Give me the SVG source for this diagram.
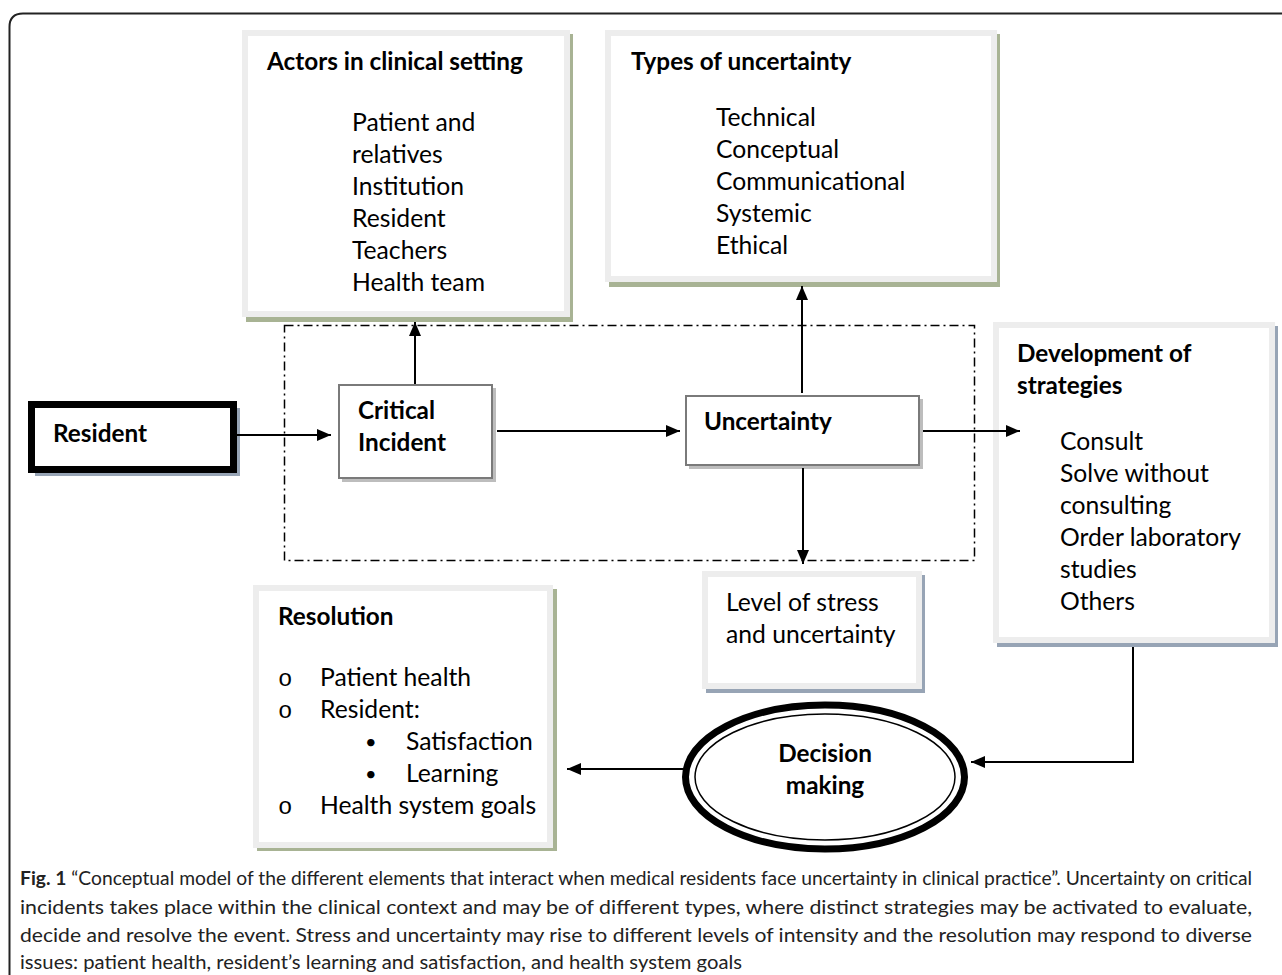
<svg xmlns="http://www.w3.org/2000/svg" width="1282" height="975" viewBox="0 0 1282 975">
<defs>
<marker id="ah" markerWidth="14" markerHeight="12" refX="14" refY="6" orient="auto" markerUnits="userSpaceOnUse">
<path d="M0,0 L14,6 L0,12 Z" fill="#000"/>
</marker>
<style>
.t{font-family:Lato,"Liberation Sans",sans-serif;font-size:24.7px;fill:#000}
.b{font-family:Lato,"Liberation Sans",sans-serif;font-size:24.3px;font-weight:bold;fill:#000}
.box{fill:#fff;stroke:#ededed;stroke-width:6}
.shg{fill:#a8b394}
.shb{fill:#97a4b5}
.shr{fill:#bdbdbd}
.gbox{fill:#fff;stroke:#7a7a7a;stroke-width:2}
.cap{font-family:Lato,"Liberation Sans",sans-serif;font-size:18.5px;fill:#222}
.ln{stroke:#000;stroke-width:2;fill:none}
.mono{font-family:"Liberation Mono",monospace;font-size:24px;fill:#000}
.dot{font-family:Lato,"Liberation Sans",sans-serif;font-size:20px;fill:#000}
</style>
</defs>
<rect width="1282" height="975" fill="#fff"/>
<path d="M9.5,975 V27 Q9.5,13.5 23,13.5 H1282" fill="none" stroke="#222" stroke-width="2"/>

<g id="context">
<rect x="284.5" y="325.5" width="690" height="235" fill="none" stroke="#000" stroke-width="1.5" stroke-dasharray="9,4,2,4"/>
</g>

<g id="actors">
<rect class="shg" x="246" y="34" width="327" height="288"/>
<rect class="box" x="245" y="33" width="322" height="281"/>
<text class="b" x="267" y="70">Actors in clinical setting</text>
<text class="t" x="352" y="131">Patient and</text>
<text class="t" x="352" y="163">relatives</text>
<text class="t" x="352" y="195">Institution</text>
<text class="t" x="352" y="227">Resident</text>
<text class="t" x="352" y="259">Teachers</text>
<text class="t" x="352" y="291">Health team</text>
</g>

<g id="types">
<rect class="shg" x="609" y="34" width="391" height="253"/>
<rect class="box" x="608" y="33" width="386" height="246"/>
<text class="b" x="631" y="70">Types of uncertainty</text>
<text class="t" x="716" y="126">Technical</text>
<text class="t" x="716" y="158">Conceptual</text>
<text class="t" x="716" y="190">Communicational</text>
<text class="t" x="716" y="222">Systemic</text>
<text class="t" x="716" y="254">Ethical</text>
</g>

<g id="resident">
<rect class="shb" x="35" y="408" width="205" height="68"/>
<rect x="31.5" y="404.5" width="202" height="65" fill="#fff" stroke="#000" stroke-width="7"/>
<text class="b" x="53" y="442">Resident</text>
</g>

<g id="critical">
<rect class="shr" x="342" y="388" width="154" height="94"/>
<rect class="gbox" x="339" y="385" width="153" height="93"/>
<text class="b" x="358" y="419">Critical</text>
<text class="b" x="358" y="451">Incident</text>
</g>

<g id="uncertainty">
<rect class="shr" x="689" y="399" width="234" height="70"/>
<rect class="gbox" x="686" y="396" width="233" height="69"/>
<text class="b" x="704" y="430">Uncertainty</text>
</g>

<g id="strategies">
<rect class="shb" x="997" y="326" width="281" height="321"/>
<rect class="box" x="996" y="325" width="276" height="315"/>
<text class="b" x="1017" y="362">Development of</text>
<text class="b" x="1017" y="394">strategies</text>
<text class="t" x="1060" y="450">Consult</text>
<text class="t" x="1060" y="482">Solve without</text>
<text class="t" x="1060" y="514">consulting</text>
<text class="t" x="1060" y="546">Order laboratory</text>
<text class="t" x="1060" y="578">studies</text>
<text class="t" x="1060" y="610">Others</text>
</g>

<g id="stress">
<rect class="shb" x="706" y="575" width="219" height="118"/>
<rect class="box" x="705" y="574" width="214" height="112"/>
<text class="t" x="726" y="611">Level of stress</text>
<text class="t" x="726" y="643">and uncertainty</text>
</g>

<g id="resolution">
<rect class="shg" x="257" y="589" width="300" height="262"/>
<rect class="box" x="256" y="588" width="294" height="257"/>
<text class="b" x="278" y="625">Resolution</text>
<text class="mono" x="278" y="686">o</text>
<text class="t" x="320" y="686">Patient health</text>
<text class="mono" x="278" y="718">o</text>
<text class="t" x="320" y="718">Resident:</text>
<text class="dot" x="365" y="749">•</text>
<text class="t" x="406" y="750">Satisfaction</text>
<text class="dot" x="365" y="781">•</text>
<text class="t" x="406" y="782">Learning</text>
<text class="mono" x="278" y="814">o</text>
<text class="t" x="320" y="814">Health system goals</text>
</g>

<g id="decision">
<ellipse cx="825" cy="777" rx="139.5" ry="72" fill="#fff" stroke="#000" stroke-width="7"/>
<ellipse cx="825" cy="777" rx="130" ry="63" fill="none" stroke="#000" stroke-width="1.5"/>
<text class="b" x="825" y="762" text-anchor="middle">Decision</text>
<text class="b" x="825" y="794" text-anchor="middle">making</text>
</g>

<g id="connectors">
<line class="ln" x1="237" y1="435" x2="331" y2="435" marker-end="url(#ah)"/>
<line class="ln" x1="415" y1="384" x2="415" y2="322" marker-end="url(#ah)"/>
<line class="ln" x1="497" y1="431" x2="680" y2="431" marker-end="url(#ah)"/>
<line class="ln" x1="802" y1="393" x2="802" y2="286" marker-end="url(#ah)"/>
<line class="ln" x1="803" y1="468" x2="803" y2="564" marker-end="url(#ah)"/>
<line class="ln" x1="923" y1="431" x2="1020" y2="431" marker-end="url(#ah)"/>
<polyline class="ln" points="1133,647 1133,762 971,762" marker-end="url(#ah)"/>
<line class="ln" x1="683" y1="769" x2="567" y2="769" marker-end="url(#ah)"/>
</g>

<g id="caption">
<text class="cap" x="20" y="885" textLength="1232" lengthAdjust="spacingAndGlyphs"><tspan font-weight="bold">Fig. 1</tspan> “Conceptual model of the different elements that interact when medical residents face uncertainty in clinical practice”. Uncertainty on critical</text>
<text class="cap" x="20" y="914" textLength="1232" lengthAdjust="spacingAndGlyphs">incidents takes place within the clinical context and may be of different types, where distinct strategies may be activated to evaluate,</text>
<text class="cap" x="20" y="942" textLength="1232" lengthAdjust="spacingAndGlyphs">decide and resolve the event. Stress and uncertainty may rise to different levels of intensity and the resolution may respond to diverse</text>
<text class="cap" x="20" y="969" textLength="722" lengthAdjust="spacingAndGlyphs">issues: patient health, resident’s learning and satisfaction, and health system goals</text>
</g>
</svg>
